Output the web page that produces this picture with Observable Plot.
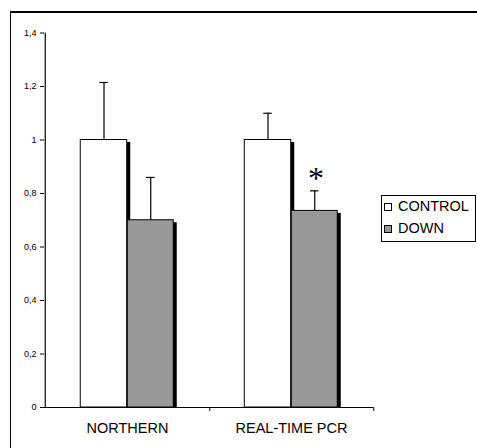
<!DOCTYPE html>
<html><head><meta charset="utf-8">
<script src="https://cdn.jsdelivr.net/npm/d3@7"></script>
<script src="https://cdn.jsdelivr.net/npm/@observablehq/plot@0.6"></script>
<style>
body{margin:0;background:#fff;}
#wrap{position:relative;width:477px;height:448px;overflow:hidden;background:#fff;font-family:"Liberation Sans",Arial,sans-serif;color:#000;}
#chart{position:absolute;left:0;top:0;}
#frame{position:absolute;left:10px;top:11px;width:480px;height:460px;border-left:1px solid #000;border-top:2px solid #000;pointer-events:none;}
#legend{position:absolute;left:381px;top:195px;width:95px;height:47px;border:1px solid #000;box-sizing:border-box;background:#fff;font-size:14.5px;}
.sw{position:absolute;left:2px;width:6px;height:6px;border:1px solid #000;}
.lt{position:absolute;left:16px;line-height:16px;white-space:nowrap;}
</style>
</head><body>
<div id="wrap">
  <div id="chart"></div>
  <div id="frame"></div>
  <div id="legend"></div>
</div>
<script>
const categories = ["NORTHERN", "REAL-TIME PCR"];
const seriesNames = ["CONTROL", "DOWN"];
const seriesColors = ["#ffffff", "#999999"];
const controlValues = [1.0, 1.0];
const controlErrors = [0.215, 0.10];
const downValues = [0.70, 0.735];
const downErrors = [0.16, 0.075];
const yTicks = [0, 0.2, 0.4, 0.6, 0.8, 1, 1.2, 1.4];
const yTickLabels = ["0", "0,2", "0,4", "0,6", "0,8", "1", "1,2", "1,4"];
const sigCategories = ["REAL-TIME PCR"];
const sigSymbols = ["*"];

const controlRows = categories.map((c, i) => ({category: c, value: controlValues[i], hi: controlValues[i] + controlErrors[i]}));
const downRows = categories.map((c, i) => ({category: c, value: downValues[i], hi: downValues[i] + downErrors[i]}));
const sigRows = sigCategories.map((c, i) => {
  const k = categories.indexOf(c);
  return {category: c, hi: downRows[k].hi, symbol: sigSymbols[i]};
});

const half = (373 - 44) / 4; // half band width in px (82.25)
const barW = 47;

const chart = Plot.plot({
  width: 477,
  height: 448,
  marginLeft: 44,
  marginRight: 104,
  marginTop: 32.5,
  marginBottom: 41,
  style: {background: "transparent", color: "#000", fontFamily: "'Liberation Sans', Arial, sans-serif", overflow: "visible"},
  x: {domain: categories, padding: 0, axis: null},
  y: {domain: [0, 1.4], axis: null},
  marks: [
    // control: shadow + bar
    Plot.barY(controlRows, {x: "category", y: "value", fill: "#000", dx: 3.5, insetTop: 2.5, insetLeft: half - barW, insetRight: half}),
    Plot.barY(controlRows, {x: "category", y: "value", fill: seriesColors[0], stroke: "#000", strokeWidth: 1, insetLeft: half - barW, insetRight: half}),
    // down: shadow + bar
    Plot.barY(downRows, {x: "category", y: "value", fill: "#000", dx: 3.5, insetTop: 2.5, insetLeft: half, insetRight: half - 46.5}),
    Plot.barY(downRows, {x: "category", y: "value", fill: seriesColors[1], stroke: "#000", strokeWidth: 1, insetLeft: half, insetRight: half - 46.5}),
    // error bars
    Plot.ruleX(controlRows, {x: "category", y1: "value", y2: "hi", dx: -23.5, stroke: "#000", strokeWidth: 1.2}),
    Plot.tickY(controlRows, {x: "category", y: "hi", insetLeft: half - 28, insetRight: half + 19, stroke: "#000", strokeWidth: 1.2}),
    Plot.ruleX(downRows, {x: "category", y1: "value", y2: "hi", dx: 23.25, stroke: "#000", strokeWidth: 1.2}),
    Plot.tickY(downRows, {x: "category", y: "hi", insetLeft: half + 18.75, insetRight: half - 27.75, stroke: "#000", strokeWidth: 1.2}),
    // axes lines
    Plot.ruleY([0], {stroke: "#000", strokeWidth: 1.2}),
    Plot.ruleX([categories[0]], {x: d => d, y1: 0, y2: 1.4, dx: -half, stroke: "#000", strokeWidth: 1.2}),
    Plot.ruleX(categories, {x: d => d, y1: 0, y2: 0, dx: half, insetBottom: -4, stroke: "#000", strokeWidth: 1}),
    Plot.axisY({ticks: yTicks, tickFormat: d => yTickLabels[yTicks.indexOf(d)], tickSize: 4, tickPadding: 4, fontSize: 9, label: null, stroke: "#000", fill: "#000"}),
    Plot.axisX({tickSize: 0, tickPadding: 15, fontSize: 14.5, label: null, fill: "#000"}),
    // significance
    Plot.text(sigRows, {x: "category", y: "hi", text: "symbol", dx: 24.5, dy: -12.5, fontSize: 32, fontFamily: "'Liberation Serif', 'Times New Roman', serif", lineAnchor: "middle", fill: "#000"})
  ]
});
document.getElementById("chart").appendChild(chart);

// legend
const legend = document.getElementById("legend");
const rowTops = [1.5, 24];
seriesNames.forEach((name, i) => {
  const sw = document.createElement("div");
  sw.className = "sw";
  sw.style.top = (rowTops[i] + 5) + "px";
  sw.style.background = seriesColors[i];
  legend.appendChild(sw);
  const t = document.createElement("div");
  t.className = "lt";
  t.style.top = rowTops[i] + "px";
  t.textContent = name;
  legend.appendChild(t);
});
</script>
</body></html>
